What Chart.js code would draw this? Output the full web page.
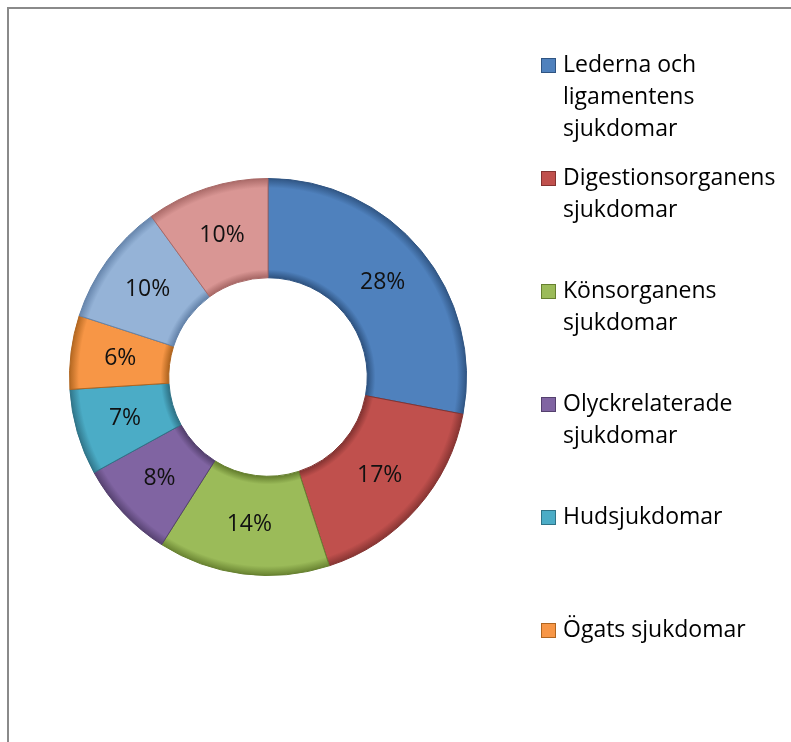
<!DOCTYPE html>
<html>
<head>
<meta charset="utf-8">
<script src="https://cdn.jsdelivr.net/npm/chart.js@4.4.1/dist/chart.umd.min.js"></script>
<style>
  body { margin: 0; background: #fff; overflow: hidden; }
  #frame { position: absolute; left: 7px; top: 7px; width: 900px; height: 900px; border: 2px solid #8a8a8a; }
  #myChart { position: absolute; left: 0; top: 0; }
</style>
</head>
<body>
<div id="frame"></div>
<canvas id="myChart" width="791" height="742"></canvas>
<script>
// categories (the last two slices have no visible legend entry)
let categories = [
    "Lederna och ligamentens sjukdomar",
    "Digestionsorganens sjukdomar",
    "Könsorganens sjukdomar",
    "Olyckrelaterade sjukdomar",
    "Hudsjukdomar",
    "Ögats sjukdomar",
    "",
    ""
];
let percent = [28, 17, 14, 8, 7, 6, 10, 10];
let colors = ['#4f81bd', '#c0504d', '#9bbb59', '#8064a2', '#4bacc6', '#f79646', '#95b3d7', '#d99694'];
let edges = ['#2f5482', '#843331', '#66802f', '#54406e', '#2f7387', '#b0651f', '#6483aa', '#a86866'];

const FONT = '"Open Sans", "Noto Sans", sans-serif';

/** splits text into lines that fit maxW */
function wrap(ctx, text, maxW) {
    let words = text.split(' ');
    let lines = [];
    let cur = '';
    for (let w of words) {
        let t = cur ? cur + ' ' + w : w;
        if (cur && ctx.measureText(t).width > maxW) {
            lines.push(cur);
            cur = w;
        } else {
            cur = t;
        }
    }
    if (cur) lines.push(cur);
    return lines;
}

/** radial shading so the ring edges look a bit raised */
function shade(context) {
    const chart = context.chart;
    const a = chart.chartArea;
    const i = context.dataIndex;
    if (!a) return colors[i];
    const cx = (a.left + a.right) / 2, cy = (a.top + a.bottom) / 2;
    const r = Math.min(a.width, a.height) / 2;
    const g = chart.ctx.createRadialGradient(cx, cy, 0, cx, cy, r);
    g.addColorStop(0.50, edges[i]);
    g.addColorStop(0.54, colors[i]);
    g.addColorStop(0.95, colors[i]);
    g.addColorStop(1.00, edges[i]);
    return g;
}

/** percent text in the middle of every slice */
const sliceLabels = {
    id: 'sliceLabels',
    afterDatasetsDraw(chart) {
        const ctx = chart.ctx;
        const meta = chart.getDatasetMeta(0);
        ctx.save();
        ctx.font = '23px ' + FONT;
        ctx.fillStyle = '#111';
        ctx.textAlign = 'center';
        ctx.textBaseline = 'middle';
        meta.data.forEach((arc, i) => {
            const p = arc.getCenterPoint();
            ctx.fillText(chart.data.datasets[0].data[i] + '%', p.x, p.y);
        });
        ctx.restore();
    }
};

/** legend on the right, with wrapped text */
const sideLegend = {
    id: 'sideLegend',
    afterDraw(chart) {
        const ctx = chart.ctx;
        ctx.save();
        ctx.font = '23px ' + FONT;
        ctx.textBaseline = 'middle';
        chart.data.labels.forEach((label, i) => {
            if (!label) return;
            const y = 65 + i * 113;
            ctx.fillStyle = colors[i];
            ctx.fillRect(541, y - 7, 15, 15);
            ctx.strokeStyle = edges[i];
            ctx.lineWidth = 1;
            ctx.strokeRect(541.5, y - 6.5, 14, 14);
            ctx.fillStyle = '#000';
            wrap(ctx, label, 215).forEach((line, k) => {
                ctx.fillText(line, 563, y + k * 32);
            });
        });
        ctx.restore();
    }
};

let ctx = document.getElementById('myChart').getContext('2d');
let myChart = new Chart(ctx, {
    type: 'doughnut',
    data: {
        labels: categories,
        datasets: [{
            data: percent,
            backgroundColor: shade,
            borderColor: edges,
            borderWidth: 1,
            hoverOffset: 0
        }]
    },
    options: {
        responsive: false,
        animation: false,
        cutout: '50%',
        layout: { padding: { left: 69, top: 178, right: 324, bottom: 166 } },
        plugins: {
            legend: { display: false },
            tooltip: { enabled: false }
        }
    },
    plugins: [sliceLabels, sideLegend]
});
</script>
</body>
</html>
